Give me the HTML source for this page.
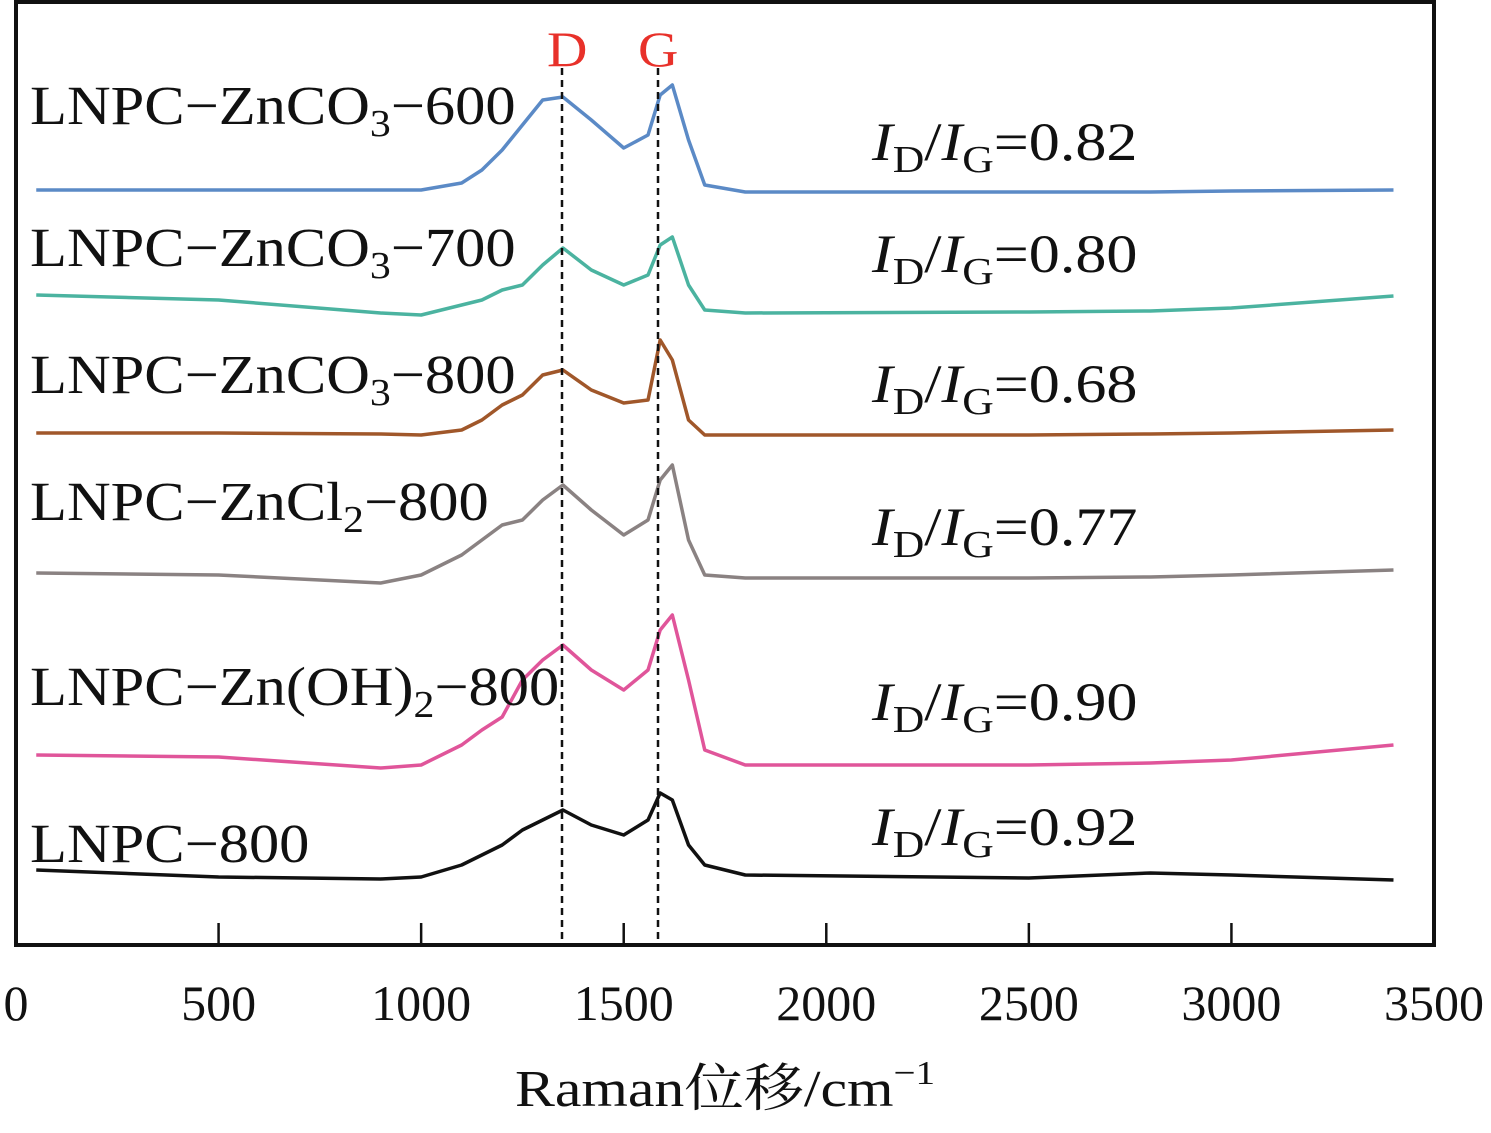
<!DOCTYPE html>
<html><head><meta charset="utf-8"><style>
body{margin:0;background:#fff}
svg text{font-family:"Liberation Serif","Noto Serif CJK SC",serif}
</style></head><body>
<svg id="chart" width="1491" height="1128" viewBox="0 0 1491 1128" xmlns="http://www.w3.org/2000/svg">
<g id="ticks"></g>
<g id="series"></g>
<rect x="16" y="2" width="1418" height="943" fill="none" stroke="#111" stroke-width="4"/>
<line x1="562" y1="68" x2="562" y2="945" stroke="#111" stroke-width="2.5" stroke-dasharray="7,5"/>
<line x1="658" y1="68" x2="658" y2="945" stroke="#111" stroke-width="2.5" stroke-dasharray="7,5"/>
<text transform="translate(547,66) scale(1.12,1)" font-size="50" fill="#e8312a">D</text>
<text transform="translate(638,66) scale(1.12,1)" font-size="50" fill="#e8312a">G</text>
<g font-size="55" fill="#111">
<text transform="translate(30,124) scale(1.1,1)">LNPC−ZnCO<tspan font-size="38" dy="12">3</tspan><tspan dy="-12">−600</tspan></text>
<text transform="translate(30,266) scale(1.1,1)">LNPC−ZnCO<tspan font-size="38" dy="12">3</tspan><tspan dy="-12">−700</tspan></text>
<text transform="translate(30,393) scale(1.1,1)">LNPC−ZnCO<tspan font-size="38" dy="12">3</tspan><tspan dy="-12">−800</tspan></text>
<text transform="translate(30,520) scale(1.1,1)">LNPC−ZnCl<tspan font-size="38" dy="12">2</tspan><tspan dy="-12">−800</tspan></text>
<text transform="translate(30,705) scale(1.1,1)">LNPC−Zn(OH)<tspan font-size="38" dy="12">2</tspan><tspan dy="-12">−800</tspan></text>
<text transform="translate(30,862) scale(1.1,1)">LNPC−800</text>
</g>
<g id="ratios" font-size="54" fill="#111"></g>
<text transform="translate(725,1106) scale(1.15,1)" font-size="52" text-anchor="middle" fill="#111">Raman位移/cm<tspan font-size="34" dy="-22">−1</tspan></text>
</svg>
<script>
const ticks=[0,500,1000,1500,2000,2500,3000,3500];
const waves=[50,500,900,1000,1100,1150,1200,1250,1300,1350,1420,1500,1560,1590,1620,1660,1700,1800,2500,2800,3000,3400];
const s600=[755,755,755,755,762,775,795,820,845,848,825,797,810,850,860,805,760,753,753,753,754,755];
const s700=[650,645,632,630,640,645,655,660,680,697,675,660,670,700,708,660,635,632,633,634,637,649];
const s800=[512,512,511,510,515,525,540,550,570,575,555,542,545,605,585,525,510,510,510,511,512,515];
const sCl2=[372,370,362,370,390,405,420,425,445,460,435,410,425,465,480,405,370,367,367,368,370,375];
const sOH=[190,188,177,180,200,215,228,265,285,300,275,255,275,315,330,265,195,180,180,182,185,200];
const s800b=[75,68,66,68,80,90,100,115,125,135,120,110,125,152,145,100,80,70,67,72,70,65];
const seriesList=[["znco3-600",s600,"#5b8ac6"],["znco3-700",s700,"#4bb3a0"],["znco3-800",s800,"#a0572a"],["zncl2-800",sCl2,"#8a8282"],["znoh2-800",sOH,"#e0559a"],["lnpc-800",s800b,"#111111"]];
const ratioLabels=["0.82","0.80","0.68","0.77","0.90","0.92"];
const ratioBase=[160,272,402,545,720,845];
const X=v=>16+v*1418/3500, Y=v=>945-v;
const NS="http://www.w3.org/2000/svg";
const tg=document.getElementById('ticks'),sg=document.getElementById('series'),rg=document.getElementById('ratios');
ticks.forEach(t=>{
 const l=document.createElementNS(NS,'line');
 
 
 l.setAttribute('x1',X(t));l.setAttribute('x2',X(t));l.setAttribute('y1',945);l.setAttribute('y2',923);
 l.setAttribute('stroke','#111');l.setAttribute('stroke-width','2.5');tg.appendChild(l);
 const tx=document.createElementNS(NS,'text');
 
 
 tx.setAttribute('x',X(t));tx.setAttribute('y',1020);tx.setAttribute('font-size','50');tx.setAttribute('text-anchor','middle');tx.setAttribute('fill','#111');
 tx.textContent=t;tg.appendChild(tx);
});
seriesList.forEach((s,i)=>{
 const p=document.createElementNS(NS,'polyline');
 
 
 p.setAttribute('points',waves.map((w,j)=>X(w)+','+Y(s[1][j])).join(' '));
 p.setAttribute('fill','none');p.setAttribute('stroke',s[2]);p.setAttribute('stroke-width','3.5');p.setAttribute('stroke-linejoin','round');
 sg.appendChild(p);
 const t=document.createElementNS(NS,'text');
 
 
 t.setAttribute('transform','translate(872,'+ratioBase[i]+') scale(1.15,1)');
 t.innerHTML='<tspan font-style="italic">I</tspan><tspan font-size="38" dy="12">D</tspan><tspan dy="-12">/</tspan><tspan font-style="italic">I</tspan><tspan font-size="38" dy="12">G</tspan><tspan dy="-12">='+ratioLabels[i]+'</tspan>';
 rg.appendChild(t);
});
</script>
</body></html>
